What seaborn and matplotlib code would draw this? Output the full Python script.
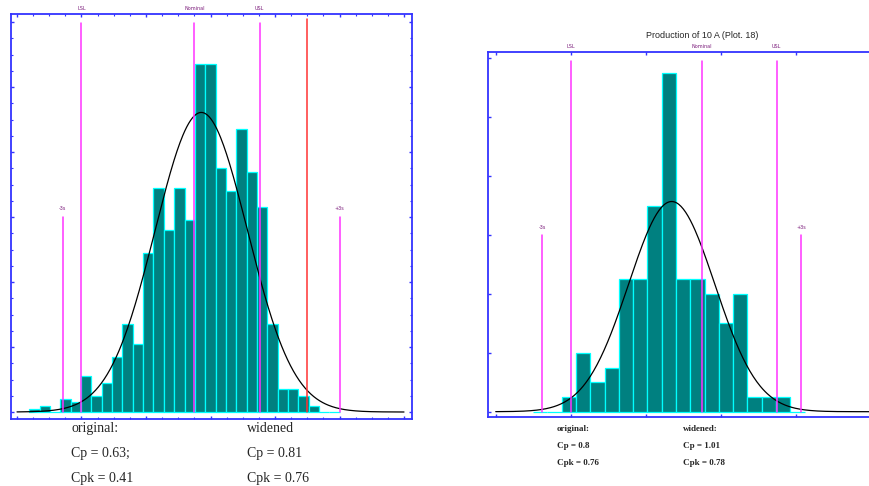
import numpy as np
import pandas as pd
import seaborn as sns
import matplotlib.pyplot as plt
from matplotlib.ticker import MultipleLocator

sns.set_theme(style="white")
plt.rcParams['font.family'] = ['Liberation Serif', 'DejaVu Serif']

# --- left histogram (original vs widened limits) ---
left_counts = [1, 2, 0, 4, 3, 11, 5, 9, 17, 27, 21, 49, 69, 56, 69, 59,
               107, 107, 75, 68, 87, 74, 63, 27, 7, 7, 5, 2, 0, 0]
left_bin_start = 0.19
left_bin_width = 0.1605
left_mean, left_sigma = 2.857, 0.716
left_limits = {"LSL": 1.0, "Nominal": 2.75, "USL": 3.76}
left_widened_usl = 4.50
left_text_orig = ["original:", "Cp = 0.63;", "Cpk = 0.41"]
left_text_wide = ["widened", "Cp = 0.81", "Cpk = 0.76"]

# --- right histogram ---
right_title = "Production of 10 A (Plot. 18)"
right_counts = [0, 0, 1, 4, 2, 3, 9, 9, 14, 23, 9, 9, 8, 6, 8, 1, 1, 1, 0]
right_bin_start = 0.499
right_bin_width = 0.1905
right_mean, right_sigma = 2.346, 0.575
right_limits = {"LSL": 1.0, "Nominal": 2.747, "USL": 3.747}
right_text_orig = ["original:", "Cp = 0.8", "Cpk = 0.76"]
right_text_wide = ["widened:", "Cp = 1.01", "Cpk = 0.78"]

TEAL = "#008080"
CYAN = "#00ffff"
MAGENTA = "#ff33ff"
RED = "#ff3333"
BLUE = "#3333ff"
PURPLE = "#7a1a7a"

W, H = 869, 486
fig = plt.figure(figsize=(W / 100, H / 100), dpi=100)


def px_axes(l, t, r, b):
    return fig.add_axes([l / W, 1 - b / H, (r - l) / W, (b - t) / H])


def draw_panel(ax, counts, start, width, mean, sigma, limits, line_top,
               sig_top, xmax_curve, xlim, ylim):
    edges = [start + width * i for i in range(len(counts) + 1)]
    centers = [(edges[i] + edges[i + 1]) / 2 for i in range(len(counts))]
    df = pd.DataFrame({"x": centers, "n": counts})
    sns.histplot(data=df, x="x", weights="n", bins=edges, ax=ax,
                 color=TEAL, edgecolor=CYAN, linewidth=0.9, alpha=1)

    # fitted normal curve scaled to the histogram
    total = sum(counts)
    xs = np.linspace(0, xmax_curve, 400)
    ys = total * width / (sigma * np.sqrt(2 * np.pi)) * np.exp(-0.5 * ((xs - mean) / sigma) ** 2)
    sns.lineplot(x=xs, y=ys, ax=ax, color="black", linewidth=0.9)

    for name, xv in limits.items():
        ax.plot([xv, xv], [0, line_top], color=MAGENTA, linewidth=1.1)
        ax.text(xv, ylim[1] + (ylim[1] - ylim[0]) * 0.008, name, ha="center",
                va="bottom", fontsize=3.5, color=PURPLE, clip_on=False,
                family="DejaVu Sans")
    for name, xv in (("-3s", mean - 3 * sigma), ("+3s", mean + 3 * sigma)):
        ax.plot([xv, xv], [0, sig_top], color=MAGENTA, linewidth=1.1)
        ax.text(xv, sig_top + (ylim[1] - ylim[0]) * 0.015, name, ha="center",
                va="bottom", fontsize=3.5, color=PURPLE, family="DejaVu Sans")

    ax.set_xlim(*xlim)
    ax.set_ylim(*ylim)
    ax.set_xlabel("")
    ax.set_ylabel("")
    for s in ax.spines.values():
        s.set_color(BLUE)
        s.set_linewidth(1.3)
        s.set_visible(True)
    ax.tick_params(which="both", direction="in", colors=BLUE, top=True,
                   right=True, bottom=True, left=True,
                   labelbottom=False, labelleft=False)
    ax.tick_params(which="major", length=2.5, width=1)
    ax.tick_params(which="minor", length=1.5, width=0.8)


# left panel
axL = px_axes(11, 14, 412, 419)
draw_panel(axL, left_counts, left_bin_start, left_bin_width, left_mean,
           left_sigma, left_limits, 119.7, 60, 6.0, (-0.093, 6.124), (-2.15, 122.5))
axL.plot([left_widened_usl] * 2, [0, 121], color=RED, linewidth=1.1)
axL.xaxis.set_major_locator(MultipleLocator(1))
axL.xaxis.set_minor_locator(MultipleLocator(0.25))
axL.yaxis.set_major_locator(MultipleLocator(20))
axL.yaxis.set_minor_locator(MultipleLocator(5))

# right panel (runs past the image edge)
axR = px_axes(488.3, 51.7, 960, 416.7)
draw_panel(axR, right_counts, right_bin_start, right_bin_width, right_mean,
           right_sigma, right_limits, 23.84, 12, 6.2, (-0.099, 6.19), (-0.34, 24.45))
axR.xaxis.set_major_locator(MultipleLocator(1))
axR.yaxis.set_major_locator(MultipleLocator(4))
axR.minorticks_off()
fig.text(701.7 / W, 1 - 35 / H, right_title, ha="center", va="center",
         fontsize=6.5, family=["Liberation Sans", "DejaVu Sans"])

# capability text
for i, (a, b) in enumerate(zip(left_text_orig, left_text_wide)):
    y = 1 - (428.5 + 25 * i) / H
    fig.text(71 / W, y, a, ha="left", va="center", fontsize=10)
    fig.text(246.5 / W, y, b, ha="left", va="center", fontsize=10)
for i, (a, b) in enumerate(zip(right_text_orig, right_text_wide)):
    y = 1 - (429 + 16.8 * i) / H
    fig.text(557 / W, y, a, ha="left", va="center", fontsize=6.5, weight="bold")
    fig.text(683 / W, y, b, ha="left", va="center", fontsize=6.5, weight="bold")

fig.savefig("out.png", dpi=100)
